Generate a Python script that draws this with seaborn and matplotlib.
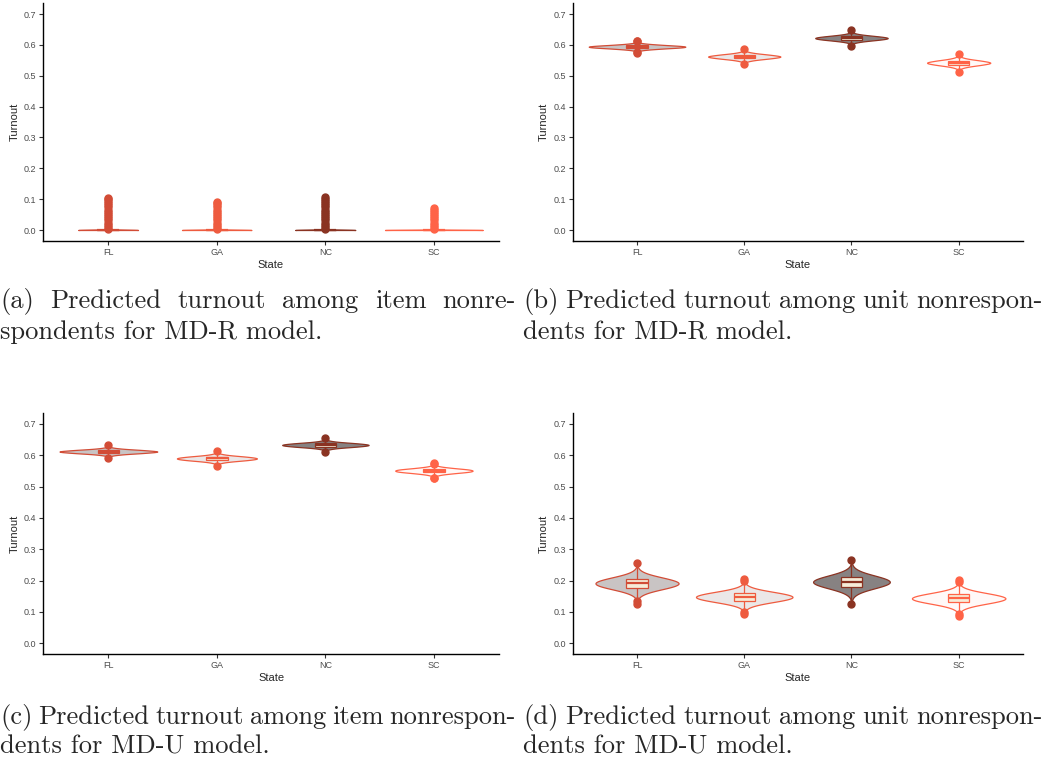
import matplotlib
matplotlib.use('Agg')
import matplotlib.pyplot as plt
import numpy as np
import pandas as pd
import seaborn as sns

# categories and colours
states = ['FL', 'GA', 'NC', 'SC']
edge_colors = ['#D24C36', '#EE5B3F', '#8A3322', '#FF6347']
fill_colors = ['#C9C4C4', '#EBE7E7', '#878282', '#FFF9F8']
box_fill = '#F6ECD8'

#
# Predicted turnout values
#
# (a) item nonrespondents, MD-R: almost all zero, thin tail of outliers
a_fl = [0.0] * 67 + [0.003, 0.010, 0.017, 0.024, 0.031, 0.038, 0.045, 0.052,
                     0.059, 0.066, 0.073, 0.080, 0.087, 0.094, 0.100, 0.105]
a_ga = [0.0] * 62 + [0.003, 0.010, 0.017, 0.024, 0.031, 0.038, 0.045, 0.052,
                     0.059, 0.066, 0.073, 0.080, 0.086, 0.090]
a_nc = [0.0] * 68 + [0.003, 0.010, 0.017, 0.024, 0.031, 0.038, 0.045, 0.052,
                     0.059, 0.066, 0.073, 0.080, 0.087, 0.094, 0.101, 0.107]
a_sc = [0.0] * 60 + [0.003, 0.010, 0.017, 0.024, 0.031, 0.038, 0.045, 0.052,
                     0.059, 0.065, 0.070]

# panels (b)-(d): turnout levels read along each violin, and how many
# draws sit at each level (the violin's width profile)
bell_counts = [1, 1, 2, 6, 14, 28, 49, 73, 92, 100, 92, 73, 49, 28, 14, 6, 2, 1, 1]

# (b) unit nonrespondents, MD-R
b_fl = [0.5749, 0.5770, 0.5792, 0.5813, 0.5834, 0.5855, 0.5876, 0.5898, 0.5919,
        0.5940, 0.5961, 0.5982, 0.6004, 0.6025, 0.6046, 0.6067, 0.6088, 0.6110, 0.6131]
b_ga = [0.5364, 0.5393, 0.5421, 0.5450, 0.5478, 0.5506, 0.5535, 0.5563, 0.5592,
        0.5620, 0.5648, 0.5677, 0.5705, 0.5734, 0.5762, 0.5790, 0.5819, 0.5847, 0.5876]
b_nc = [0.5968, 0.5996, 0.6024, 0.6052, 0.6080, 0.6108, 0.6136, 0.6164, 0.6192,
        0.6220, 0.6248, 0.6276, 0.6304, 0.6332, 0.6360, 0.6388, 0.6416, 0.6444, 0.6472]
b_sc = [0.5128, 0.5161, 0.5193, 0.5226, 0.5258, 0.5290, 0.5323, 0.5355, 0.5388,
        0.5420, 0.5452, 0.5485, 0.5517, 0.5550, 0.5582, 0.5614, 0.5647, 0.5679, 0.5712]

# (c) item nonrespondents, MD-U
c_fl = [0.5918, 0.5941, 0.5963, 0.5986, 0.6008, 0.6030, 0.6053, 0.6075, 0.6098,
        0.6120, 0.6142, 0.6165, 0.6187, 0.6210, 0.6232, 0.6254, 0.6277, 0.6299, 0.6322]
c_ga = [0.5659, 0.5686, 0.5712, 0.5739, 0.5766, 0.5793, 0.5820, 0.5846, 0.5873,
        0.5900, 0.5927, 0.5954, 0.5980, 0.6007, 0.6034, 0.6061, 0.6088, 0.6114, 0.6141]
c_nc = [0.6107, 0.6132, 0.6156, 0.6181, 0.6206, 0.6231, 0.6256, 0.6280, 0.6305,
        0.6330, 0.6355, 0.6380, 0.6404, 0.6429, 0.6454, 0.6479, 0.6504, 0.6528, 0.6553]
c_sc = [0.5262, 0.5289, 0.5317, 0.5344, 0.5372, 0.5400, 0.5427, 0.5455, 0.5482,
        0.5510, 0.5538, 0.5565, 0.5593, 0.5620, 0.5648, 0.5676, 0.5703, 0.5731, 0.5758]

# (d) unit nonrespondents, MD-U
d_fl = [0.1267, 0.1339, 0.1411, 0.1483, 0.1555, 0.1627, 0.1699, 0.1771, 0.1843,
        0.1915, 0.1987, 0.2059, 0.2131, 0.2203, 0.2275, 0.2347, 0.2419, 0.2491, 0.2563]
d_ga = [0.0922, 0.0984, 0.1046, 0.1108, 0.1170, 0.1232, 0.1294, 0.1356, 0.1418,
        0.1480, 0.1542, 0.1604, 0.1666, 0.1728, 0.1790, 0.1852, 0.1914, 0.1976, 0.2038]
d_nc = [0.1258, 0.1336, 0.1414, 0.1492, 0.1570, 0.1648, 0.1726, 0.1804, 0.1882,
        0.1960, 0.2038, 0.2116, 0.2194, 0.2272, 0.2350, 0.2428, 0.2506, 0.2584, 0.2662]
d_sc = [0.0859, 0.0923, 0.0987, 0.1051, 0.1115, 0.1179, 0.1243, 0.1307, 0.1371,
        0.1435, 0.1499, 0.1563, 0.1627, 0.1691, 0.1755, 0.1819, 0.1883, 0.1947, 0.2011]

y_ticks = [0.0, 0.1, 0.2, 0.3, 0.4, 0.5, 0.6, 0.7]
y_tick_labels = ['0.0', '0.1', '0.2', '0.3', '0.4', '0.5', '0.6', '0.7']

caption_a = (['(a)', 'Predicted', 'turnout', 'among', 'item', 'nonre-'],
             'spondents for MD-R model.')
caption_b = (['(b)', 'Predicted', 'turnout', 'among', 'unit', 'nonrespon-'],
             'dents for MD-R model.')
caption_c = (['(c)', 'Predicted', 'turnout', 'among', 'item', 'nonrespon-'],
             'dents for MD-U model.')
caption_d = (['(d)', 'Predicted', 'turnout', 'among', 'unit', 'nonrespon-'],
             'dents for MD-U model.')

W, H = 1047, 762

sns.set_style('ticks')
plt.rcParams['font.family'] = ['Liberation Sans', 'DejaVu Sans']


def make_frame(values, counts=None):
    rows = []
    for s, vals in zip(states, values):
        if counts is not None:
            vals = np.repeat(vals, counts)
        for v in vals:
            rows.append((s, v))
    return pd.DataFrame(rows, columns=['State', 'Turnout'])


def draw_panel(ax, df, bw_adjust):
    sns.violinplot(data=df, x='State', y='Turnout', hue='State', order=states,
                   hue_order=states, palette=fill_colors, saturation=1,
                   density_norm='area', common_norm=True, cut=0, inner=None,
                   width=0.9, bw_adjust=bw_adjust, gridsize=400, linewidth=0.9,
                   legend=False, ax=ax)
    for coll, c in zip(ax.collections, edge_colors):
        coll.set_edgecolor(c)
    for s, c in zip(states, edge_colors):
        sub = df[df['State'] == s]
        sns.boxplot(data=sub, x='State', y='Turnout', order=states, width=0.2,
                    color=box_fill, linecolor=c, saturation=1, linewidth=0.9,
                    showcaps=False,
                    flierprops=dict(marker='o', markersize=5,
                                    markerfacecolor=c, markeredgecolor=c),
                    medianprops=dict(color=c, linewidth=1.6), ax=ax)

    ax.set_xlim(-0.6, 3.6)
    ax.set_ylim(-0.035, 0.735)
    ax.set_yticks(y_ticks)
    ax.set_yticklabels(y_tick_labels)
    sns.despine(ax=ax)
    for side in ['left', 'bottom']:
        ax.spines[side].set_linewidth(1.0)
        ax.spines[side].set_color('black')
    ax.tick_params(axis='both', length=3, width=0.8, color='#333333',
                   labelsize=6.5, labelcolor='#4D4D4D', pad=2)
    ax.set_xlabel('State', fontsize=8, labelpad=2)
    ax.set_ylabel('Turnout', fontsize=8, labelpad=3)


fig = plt.figure(figsize=(W / 100, H / 100), dpi=100)


def add_axes(left, top, right, bottom):
    return fig.add_axes([left / W, 1 - bottom / H, (right - left) / W,
                         (bottom - top) / H])


panels = [
    (add_axes(43, 3.2, 499, 240.8), make_frame([a_fl, a_ga, a_nc, a_sc]), 0.1),
    (add_axes(572.7, 3.2, 1023, 240.8),
     make_frame([b_fl, b_ga, b_nc, b_sc], bell_counts), 1.0),
    (add_axes(43.3, 413, 499, 654.3),
     make_frame([c_fl, c_ga, c_nc, c_sc], bell_counts), 1.0),
    (add_axes(572.7, 413, 1023, 654.3),
     make_frame([d_fl, d_ga, d_nc, d_sc], bell_counts), 1.0),
]
for ax, df, bw in panels:
    draw_panel(ax, df, bw)

#
# Captions (justified first line, like the LaTeX subcaptions)
#
cap_size = 19.1
renderer = fig.canvas.get_renderer()


def caption(words, rest, x0, x1, y1, y2):
    texts = [fig.text(0, 1 - y1 / H, w, fontsize=cap_size, family='cmr10',
                      va='baseline', ha='left') for w in words]
    widths = [t.get_window_extent(renderer).width for t in texts]
    gap = (x1 - x0 - sum(widths)) / (len(words) - 1)
    x = x0
    for t, w in zip(texts, widths):
        t.set_x(x / W)
        x += w + gap
    fig.text(x0 / W, 1 - y2 / H, rest, fontsize=cap_size, family='cmr10',
             va='baseline', ha='left')


caption(*caption_a, 0, 516, 308, 339)
caption(*caption_b, 523, 1043, 308, 339)
caption(*caption_c, 0, 516, 724, 753)
caption(*caption_d, 523, 1043, 724, 753)

fig.savefig('out.png', dpi=100)
